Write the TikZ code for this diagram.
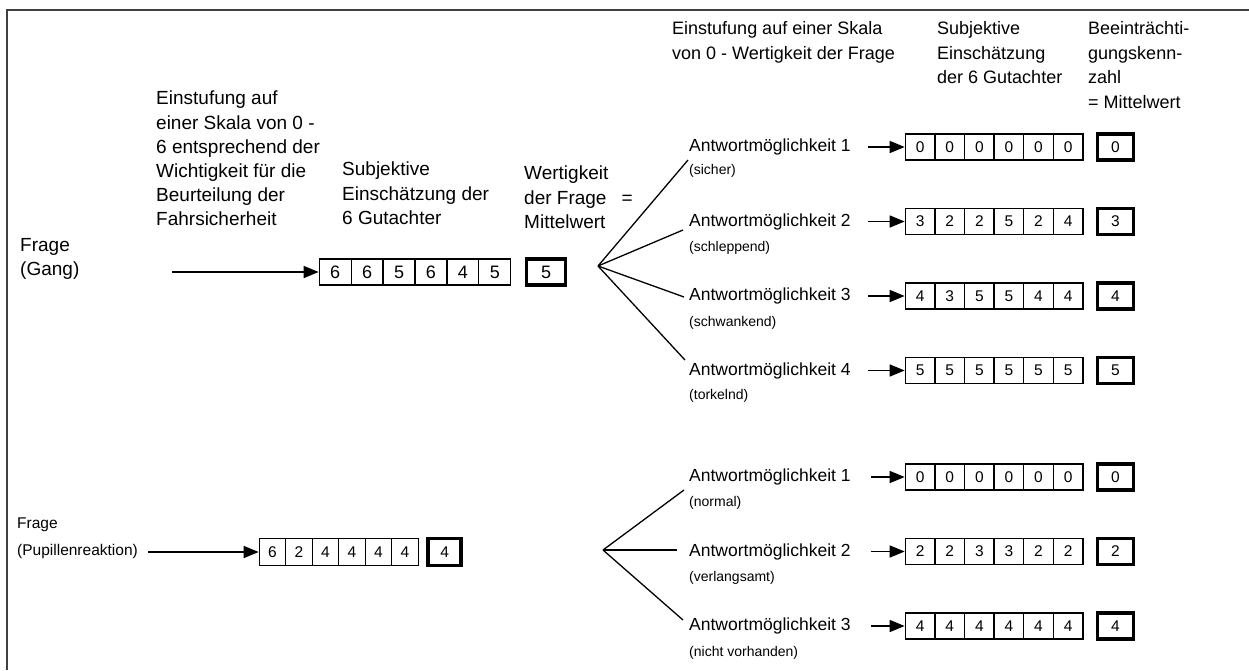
\documentclass[tikz,border=0pt]{standalone}
\usepackage{fontspec}
\setmainfont{Liberation Sans}
\usetikzlibrary{arrows.meta}

\begin{document}
\begin{tikzpicture}[x=1pt,y=-1pt,
  txt/.style={align=left, inner sep=0pt, anchor=north west, font=\fontsize{19}{24.2}\selectfont},
  kopf/.style={align=left, inner sep=0pt, anchor=north west, font=\fontsize{18}{24.5}\selectfont},
  lbl/.style={inner sep=0pt, anchor=west, font=\fontsize{17.5}{21}\selectfont},
  klein/.style={inner sep=0pt, anchor=west, font=\fontsize{14}{16}\selectfont},
  zelle/.style={draw, line width=1.3pt, inner sep=0pt, minimum height=26pt, font=\fontsize{15.5}{16}\selectfont},
  mittel/.style={draw, line width=3.8pt, inner sep=0pt, minimum height=26pt, font=\fontsize{15.5}{16}\selectfont},
  pfeil/.style={line width=1.5pt, -{Triangle[length=15pt,width=12pt]}},
  ast/.style={line width=1.3pt}]
\useasboundingbox (0,0) rectangle (1249,670);
\draw[line width=2pt, black!75] (7,670) -- (7,10) -- (1249,10);

% column headings
\node[txt] (kopfl) at (156,91) {Einstufung auf\\einer Skala von 0 -\\6 entsprechend der\\Wichtigkeit f\"ur die\\Beurteilung der\\Fahrsicherheit};
\node[txt] (kopfs) at (342,162) {Subjektive\\Einsch\"atzung der\\6 Gutachter};
\node[txt] (kopfw) at (524,166) {Wertigkeit\\der Frage\hspace{15pt}=\\Mittelwert};
\node[kopf] (kopfe) at (672,21.5) {Einstufung auf einer Skala\\von 0 - Wertigkeit der Frage};
\node[kopf] (kopfg) at (937,21.5) {Subjektive\\Einsch\"atzung\\der 6 Gutachter};
\node[kopf] (kopfb) at (1088,21.5) {Beeintr\"achti-\\gungskenn-\\zahl\\= Mittelwert};

% Frage (Gang)
\node[txt] (gang) at (20,238) {Frage\\(Gang)};
\coordinate (gangA) at (172,272);
\foreach \v [count=\i] in {6,6,5,6,4,5}
  \node[zelle, minimum width=31.9pt, font=\fontsize{18}{18}\selectfont] (g\i) at ({319.3+(\i-0.5)*31.9},272) {\v\hspace{5pt}};
\node[mittel, minimum width=39pt, font=\fontsize{18}{18}\selectfont] (gm) at (546,272) {5};
\path[pfeil] (gangA) edge (g1.west);

\coordinate (gangF) at (598,266);
\coordinate (gE1) at (688,160);
\coordinate (gE2) at (683,230);
\coordinate (gE3) at (684,297);
\coordinate (gE4) at (685,360);
\foreach \k in {1,...,4}
  \path[ast] (gangF) edge (gE\k);

\foreach \k/\y/\z/\w in {1/147/171/sicher, 2/221.5/248/schleppend, 3/296/323/schwankend, 4/370.5/396/torkelnd}{
  \node[lbl] (ga\k) at (689,\y) {Antwortm\"oglichkeit \k};
  \node[klein] (gs\k) at (689,\z) {(\w)};
  \coordinate (gp\k) at (868,\y);
}
\foreach \v [count=\i] in {0,0,0,0,0,0}
  \node[zelle, minimum width=29.6pt] (ga1z\i) at ({905.3+(\i-0.5)*29.6},147) {\v};
\foreach \v [count=\i] in {3,2,2,5,2,4}
  \node[zelle, minimum width=29.6pt] (ga2z\i) at ({905.3+(\i-0.5)*29.6},221.5) {\v};
\foreach \v [count=\i] in {4,3,5,5,4,4}
  \node[zelle, minimum width=29.6pt] (ga3z\i) at ({905.3+(\i-0.5)*29.6},296) {\v};
\foreach \v [count=\i] in {5,5,5,5,5,5}
  \node[zelle, minimum width=29.6pt] (ga4z\i) at ({905.3+(\i-0.5)*29.6},370.5) {\v};
\foreach \k/\m/\y in {1/0/147, 2/3/221.5, 3/4/296, 4/5/370.5}{
  \node[mittel, minimum width=36pt] (gm\k) at (1115.5,\y) {\m};
  \path[pfeil] (gp\k) edge (ga\k z1.west);
}

% Frage (Pupillenreaktion)
\node[txt, font=\fontsize{15.5}{27}\selectfont] (pup) at (17,518) {Frage\\(Pupillenreaktion)};
\coordinate (pupA) at (148,552);
\foreach \v [count=\i] in {6,2,4,4,4,4}
  \node[zelle, minimum width=26.5pt, minimum height=27pt] (p\i) at ({259.3+(\i-0.5)*26.5},552) {\v};
\node[mittel, minimum width=33pt, minimum height=27pt] (pm) at (444.7,552) {4};
\path[pfeil] (pupA) edge (p1.west);

\coordinate (pupF) at (603,550);
\coordinate (pE1) at (684,490);
\coordinate (pE2) at (677,550);
\coordinate (pE3) at (683,620);
\foreach \k in {1,...,3}
  \path[ast] (pupF) edge (pE\k);

\foreach \k/\y/\z/\w in {1/477/503/normal, 2/551.5/578/verlangsamt, 3/626/653/nicht vorhanden}{
  \node[lbl] (pa\k) at (689,\y) {Antwortm\"oglichkeit \k};
  \node[klein] (ps\k) at (689,\z) {(\w)};
  \coordinate (pp\k) at (871,\y);
}
\foreach \v [count=\i] in {0,0,0,0,0,0}
  \node[zelle, minimum width=29.6pt] (pa1z\i) at ({905.3+(\i-0.5)*29.6},477) {\v};
\foreach \v [count=\i] in {2,2,3,3,2,2}
  \node[zelle, minimum width=29.6pt] (pa2z\i) at ({905.3+(\i-0.5)*29.6},551.5) {\v};
\foreach \v [count=\i] in {4,4,4,4,4,4}
  \node[zelle, minimum width=29.6pt] (pa3z\i) at ({905.3+(\i-0.5)*29.6},626) {\v};
\foreach \k/\m/\y in {1/0/477, 2/2/551.5, 3/4/626}{
  \node[mittel, minimum width=36pt] (pm\k) at (1115.5,\y) {\m};
  \path[pfeil] (pp\k) edge (pa\k z1.west);
}
\end{tikzpicture}
\end{document}
